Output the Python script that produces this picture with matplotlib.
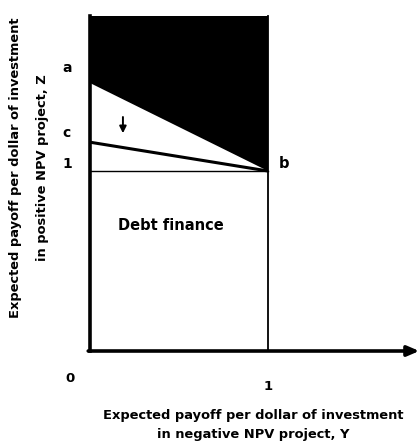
import matplotlib.pyplot as plt
import numpy as np

# values (data units: x = Y payoff, y = Z payoff)
point_a = 1.49
point_c = 1.16
point_b = (1.0, 1.0)
top = 1.86
x_end = 1.83
left_labels = ['a', 'c', '1']
left_label_y = [point_a + 0.08, point_c + 0.05, 1.04]

fig = plt.figure(figsize=(4.19, 4.46), dpi=100)
ax = fig.add_axes([0, 0, 1, 1])
ax.set_xlim(-90 / 178, 329 / 178)
ax.set_ylim(-95 / 180, 351 / 180)
ax.axis('off')

# black region above the a-b line
ax.fill([0, 0, 1, 1], [point_a, top, top, point_b[1]], color='black', lw=0)

# c-b line, 1-b line, x=1 line
ax.plot([0, 1], [point_c, 1], color='black', lw=2.2, solid_capstyle='butt')
ax.plot([0, 1], [1, 1], color='black', lw=1.0)
ax.plot([1, 1], [0, top], color='black', lw=1.3)

# axes
ax.plot([0, 0], [0, top], color='black', lw=2.6)
ax.annotate('', xy=(x_end + 0.02, 0), xytext=(-0.01, 0),
            arrowprops=dict(arrowstyle='-|>,head_length=0.7,head_width=0.3',
                            color='black', lw=2.6, shrinkA=0, shrinkB=0))

# small downward arrow
ax.annotate('', xy=(0.185, 1.21), xytext=(0.185, 1.30),
            arrowprops=dict(arrowstyle='-|>,head_length=0.4,head_width=0.2',
                            color='black', lw=1.4, shrinkA=0, shrinkB=0))

fs = 9.5
font = dict(family='DejaVu Sans', fontweight='bold', color='black')
for lab, yy in zip(left_labels, left_label_y):
    ax.text(-0.13, yy, lab, ha='center', va='center', fontsize=fs + 0.5, **font)
ax.text(1.09, 1.04, 'b', ha='center', va='center', fontsize=fs + 1, **font)
ax.text(-0.11, -0.155, '0', ha='center', va='center', fontsize=fs, **font)
ax.text(1.0, -0.2, '1', ha='center', va='center', fontsize=fs, **font)
ax.text(0.455, 0.70, 'Debt finance', ha='center', va='center', fontsize=10.5, **font)

lfs = 9.4
ax.text(0.915, -0.36, 'Expected payoff per dollar of investment', ha='center',
        va='center', fontsize=lfs, **font)
ax.text(0.915, -0.465, 'in negative NPV project, Y', ha='center',
        va='center', fontsize=lfs, **font)
ax.text(-0.42, 1.02, 'Expected payoff per dollar of investment', ha='center',
        va='center', rotation=90, fontsize=lfs, **font)
ax.text(-0.265, 1.02, 'in positive NPV project, Z', ha='center',
        va='center', rotation=90, fontsize=lfs, **font)

fig.savefig('out.png', dpi=100)
